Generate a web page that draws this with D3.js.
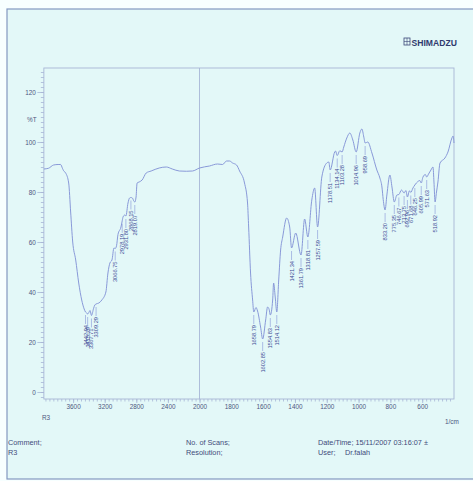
<!DOCTYPE html>
<html>
<head>
<meta charset="utf-8">
<script src="https://cdn.jsdelivr.net/npm/d3@7"></script>
<style>
  html, body { margin: 0; padding: 0; background: #f7ffff; }
  svg { display: block; font-family: 'Liberation Sans', Arial, sans-serif; }
</style>
</head>
<body>
<script>
'use strict';

// spectrum (wavenumber in 1/cm, %T)
const wavenumbers = [
	3970, 3911, 3847, 3790, 3758, 3735, 3720, 3694, 3656, 3631, 3605, 3567, 3529, 3491, 3460,
	3442.94, 3427, 3415.79, 3401, 3385, 3367.71, 3340, 3325, 3309.29, 3274, 3236, 3185, 3159,
	3134, 3108, 3083, 3066.75, 3050, 3032, 2994, 2978.19, 2968, 2945, 2931.80, 2905, 2885,
	2868.15, 2850, 2828, 2819.07, 2803, 2790, 2764, 2726, 2675, 2612, 2510, 2420, 2344, 2255,
	2166, 2089, 2000, 1937, 1887, 1855, 1830, 1811, 1792, 1767, 1748, 1717, 1698, 1691, 1679,
	1666, 1658.79, 1645, 1635, 1616, 1602.85, 1584, 1572, 1562, 1554.83, 1540, 1534, 1524,
	1514.12, 1502, 1490, 1477, 1452, 1433, 1421.34, 1395, 1361.79, 1339, 1318.81, 1294, 1276,
	1257.59, 1231, 1200, 1187, 1178.51, 1150, 1145, 1134.14, 1118, 1103.28, 1093, 1074, 1055,
	1036, 1014.96, 992, 979, 967, 958.69, 942, 916, 885, 866, 853, 845, 833.20, 822, 803, 790,
	775.35, 759, 746.67, 730, 713.75, 702, 692.96, 680, 671.68, 658, 646.25, 627, 615, 605.99,
	595, 580, 571.63, 560, 545, 532, 526, 518.92, 510, 501, 488, 457, 438, 413, 406, 400
];
const transmittance = [
	89.2, 89.5, 90.8, 91.0, 91.0, 89.5, 88.5, 87.6, 83.6, 72, 60, 52.8, 43.6, 36.8, 33.2,
	32.0, 31.6, 31.2, 31.8, 32.6, 30.6, 33.5, 34.8, 35.2, 35.6, 36.8, 40, 47.6,
	51.6, 52.8, 57.6, 57.4, 58.5, 63, 66, 68.5, 70, 70.8, 70.4, 75.6, 77.6,
	77.8, 77.6, 76.2, 76.0, 78, 83.6, 84, 84.8, 87.6, 88.4, 89.6, 90, 89.2, 88.4,
	88.3, 88.4, 89.6, 90.4, 91.2, 91, 92.4, 92.4, 91.6, 90.8, 88.4, 83.6, 75.6, 66, 47.6,
	36.8, 32, 33.8, 32.4, 26, 21.2, 28.8, 34, 33, 30.8, 36.8, 43.6, 38,
	32, 44.8, 56.8, 62, 69.6, 66, 57.6, 63.6, 54.8, 69.2, 62, 76.8, 81.6,
	66, 86, 91.6, 92, 88.8, 96, 96.4, 94.6, 96.5, 96.0, 98, 101.6, 103.6,
	100.8, 96, 103.6, 105.2, 102, 99.6, 100, 95.6, 88.8, 85.6, 82, 77, 72.8, 78.8, 86.8, 82,
	76, 78.8, 79.0, 80.8, 79.6, 80.6, 78, 80.5, 79.8, 81.6, 82.8, 84.2, 84.6, 83.6,
	86, 87, 86, 87.2, 88.8, 90, 84, 76, 80, 84, 91.6, 93.6, 96, 101.6, 102.4, 99.6
];
const peakLabels = [
	'3442.94', '3415.79', '3367.71', '3309.29', '3066.75', '2978.19', '2931.80', '2868.15', '2819.07',
	'1658.79', '1602.85', '1554.83', '1514.12', '1421.34', '1361.79', '1318.81', '1257.59',
	'1178.51', '1134.14', '1103.28', '1014.96', '958.69', '833.20', '775.35', '746.67',
	'713.75', '692.96', '671.68', '646.25', '605.99', '571.63', '518.92'
];
const xTickValues = [3600, 3200, 2800, 2400, 2000, 1800, 1600, 1400, 1200, 1000, 800, 600];
const yTickValues = [0, 20, 40, 60, 80, 100, 120];
const footerTexts = [
	['Comment;', 'R3'],
	['No. of Scans;', 'Resolution;'],
	['Date/Time; 15/11/2007 03:16:07 \u00b1', 'User;']
];

const W = 473, H = 481;
const X_LIMITS = [3970, 400];
const Y_LIMITS = [-2.8, 129.6];

// Shimadzu plots switch scale at 2000 1/cm
let x = d3.scaleLinear().domain([4000, 2000, 400]).range([41.5, 199.5, 454]);
let y = d3.scaleLinear().domain([0, 120]).range([392, 92]);

let svg = d3.select('body').append('svg').attr('width', W).attr('height', H);

// photographed panel
svg.append('rect').attr('x', 7).attr('y', 9).attr('width', W - 6).attr('height', H - 11)
	.attr('fill', '#e3f8f8').attr('stroke', '#8298c0').attr('stroke-width', 1.2);

// logo
let logo = svg.append('g').attr('transform', 'translate(404, 38)');
logo.append('rect').attr('width', 6).attr('height', 7).attr('fill', 'none').attr('stroke', '#3a4577').attr('stroke-width', 0.8);
logo.append('path').attr('d', 'M0,3.5H6M3,0V7').attr('stroke', '#3a4577').attr('stroke-width', 0.6);
svg.append('text').attr('x', 411.5).attr('y', 45.5).text('SHIMADZU')
	.attr('font-size', 8.6).attr('font-weight', 'bold').attr('fill', '#2f3a6e');

let plotLeft = x(X_LIMITS[0]), plotRight = x(X_LIMITS[1]), plotTop = y(Y_LIMITS[1]), plotBottom = y(Y_LIMITS[0]);
const FRAME = '#a7b5d6';

// frame and 2000 divider
svg.append('rect').attr('x', plotLeft).attr('y', plotTop).attr('width', plotRight - plotLeft).attr('height', plotBottom - plotTop)
	.attr('fill', 'none').attr('stroke', FRAME).attr('stroke-width', 0.9);
svg.append('line').attr('x1', x(2000)).attr('x2', x(2000)).attr('y1', plotTop).attr('y2', plotBottom)
	.attr('stroke', FRAME).attr('stroke-width', 0.9);

// axes
let minorX = d3.range(3950, 2000, -50).concat(d3.range(2000, 400, -25));
let minorY = d3.range(-2, 130, 2);

let xMinor = svg.append('g').attr('transform', 'translate(0,' + plotBottom + ')')
	.call(d3.axisBottom(x).tickValues(minorX).tickSize(2.5).tickFormat(''));
let xMajor = svg.append('g').attr('transform', 'translate(0,' + plotBottom + ')')
	.call(d3.axisBottom(x).tickValues(xTickValues).tickSize(4).tickPadding(1.5).tickFormat(d3.format('d')));
let yMinor = svg.append('g').attr('transform', 'translate(' + plotLeft + ',0)')
	.call(d3.axisLeft(y).tickValues(minorY).tickSize(3).tickFormat(''));
let yMajor = svg.append('g').attr('transform', 'translate(' + plotLeft + ',0)')
	.call(d3.axisLeft(y).tickValues(yTickValues).tickSize(6.5).tickPadding(1.5));

[xMinor, xMajor, yMinor, yMajor].forEach((g) => {
	g.select('.domain').remove();
	g.selectAll('line').attr('stroke', FRAME).attr('stroke-width', 0.8);
	g.selectAll('text').attr('fill', '#4d5780').attr('font-size', 6.4).attr('font-family', 'Liberation Sans, Arial, sans-serif');
});

svg.append('text').attr('x', 27).attr('y', 121.5).text('%T').attr('font-size', 6.4).attr('fill', '#4d5780');
svg.append('text').attr('x', 42).attr('y', 420).text('R3').attr('font-size', 6.4).attr('fill', '#4d5780');
svg.append('text').attr('x', 445).attr('y', 424).text('1/cm').attr('font-size', 6.4).attr('fill', '#4d5780');

// spectrum
let spectrum = wavenumbers.map((w, i) => ({ w: w, t: transmittance[i] }));
let line = d3.line().x((d) => x(d.w)).y((d) => y(d.t)).curve(d3.curveMonotoneX);
svg.append('path').datum(spectrum).attr('d', line)
	.attr('fill', 'none').attr('stroke', '#8493d6').attr('stroke-width', 0.95);

// peak picks
let tAt = (w) => {
	let i = spectrum.findIndex((d) => d.w <= w);
	if (i <= 0) return spectrum[Math.max(i, 0)].t;
	let a = spectrum[i - 1], b = spectrum[i];
	return a.t + (b.t - a.t) * (a.w - w) / (a.w - b.w);
};
let peaks = svg.append('g').selectAll('g').data(peakLabels).enter().append('g')
	.attr('transform', (d) => 'translate(' + x(+d) + ',' + y(tAt(+d)) + ')');
peaks.append('line').attr('y1', 3).attr('y2', 12).attr('stroke', '#8493d6').attr('stroke-width', 0.6);
peaks.append('text').text((d) => d)
	.attr('transform', 'translate(0,13) rotate(-90)')
	.attr('text-anchor', 'end').attr('dy', '0.35em')
	.attr('font-size', 5.7).attr('fill', '#3c4a96');

// footer
let footerX = [8, 186, 318];
footerTexts.forEach((col, i) => {
	col.forEach((t, j) => {
		svg.append('text').attr('x', footerX[i]).attr('y', 445 + j * 10).text(t)
			.attr('font-size', 7.3).attr('fill', '#3f4b7a');
	});
});
svg.append('text').attr('x', 345).attr('y', 455).text('Dr.falah').attr('font-size', 7.3).attr('fill', '#3f4b7a');
</script>
</body>
</html>
